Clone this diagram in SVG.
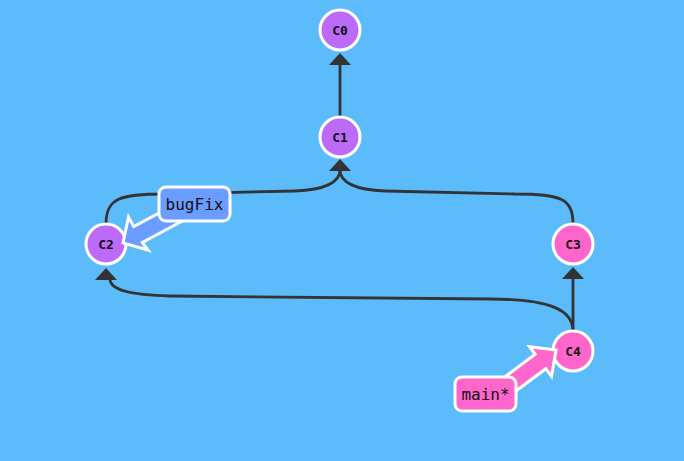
<svg xmlns="http://www.w3.org/2000/svg" width="684" height="461" viewBox="0 0 684 461">
<defs>
<style>
.edge{fill:none;stroke:#333;stroke-width:2.8}
.head{fill:#333}
.node circle{stroke:#fff;stroke-width:3}
.purple{fill:#bb6bf7}
.pink{fill:#ff66cc}
.ntext{font-family:"DejaVu Sans Mono",monospace;font-size:13px;font-weight:bold;fill:#111;text-anchor:middle}
.ltext{font-family:"DejaVu Sans Mono",monospace;font-size:16px;fill:#111;text-anchor:middle}
.lab{stroke:#fff;stroke-width:3;stroke-linejoin:miter}
</style>
</defs>
<rect width="684" height="461" fill="#5cbbfb"/>
<g id="connectors">
<path class="edge" d="M340,117 L340,64"/>
<polygon class="head" points="340,53 329,65 351,65"/>
<path class="edge" d="M106,224 C106,198 120,194 165,194 L295,191 C325,190 340,182 340,170"/>
<path class="edge" d="M573,224 C573,198 560,194 515,194 L385,191 C355,190 340,182 340,170"/>
<polygon class="head" points="340,159 329,171 351,171"/>
<path class="edge" d="M573,331 L573,278"/>
<polygon class="head" points="573,267 562,279 584,279"/>
<path class="edge" d="M573,331 C573,310 550,299 490,299 L170,296 C130,295 110,290 110,279"/>
<polygon class="head" points="106,268 95,280 117,280"/>
</g>
<g id="C0" class="node"><circle class="purple" cx="340" cy="30" r="20"/><text class="ntext" x="340" y="34.5">C0</text></g>
<g id="C1" class="node"><circle class="purple" cx="340" cy="137" r="20"/><text class="ntext" x="340" y="141.5">C1</text></g>
<g id="C2" class="node"><circle class="purple" cx="106" cy="244" r="20"/><text class="ntext" x="106" y="248.5">C2</text></g>
<g id="C3" class="node"><circle class="pink" cx="573" cy="244" r="20"/><text class="ntext" x="573" y="248.5">C3</text></g>
<g id="C4" class="node"><circle class="pink" cx="573" cy="351" r="20"/><text class="ntext" x="573" y="355.5">C4</text></g>
<g id="bugFix">
<polygon class="lab" fill="#6b9cff" points="184.3,220 142.3,242.4 148,250 123,243 128.5,217 133.7,226.6 175.7,204.2"/>
<rect class="lab" fill="#6b9cff" x="159" y="187" width="71" height="34" rx="7"/>
<text class="ltext" x="194.5" y="210">bugFix</text>
</g>
<g id="main">
<polygon class="lab" fill="#ff66cc" points="510.3,395.2 545.8,368.7 551.5,376.3 556,350 529.5,346.7 535.2,354.3 499.7,380.8"/>
<rect class="lab" fill="#ff66cc" x="455" y="377" width="61" height="34" rx="7"/>
<text class="ltext" x="485.5" y="400">main*</text>
</g>
</svg>
